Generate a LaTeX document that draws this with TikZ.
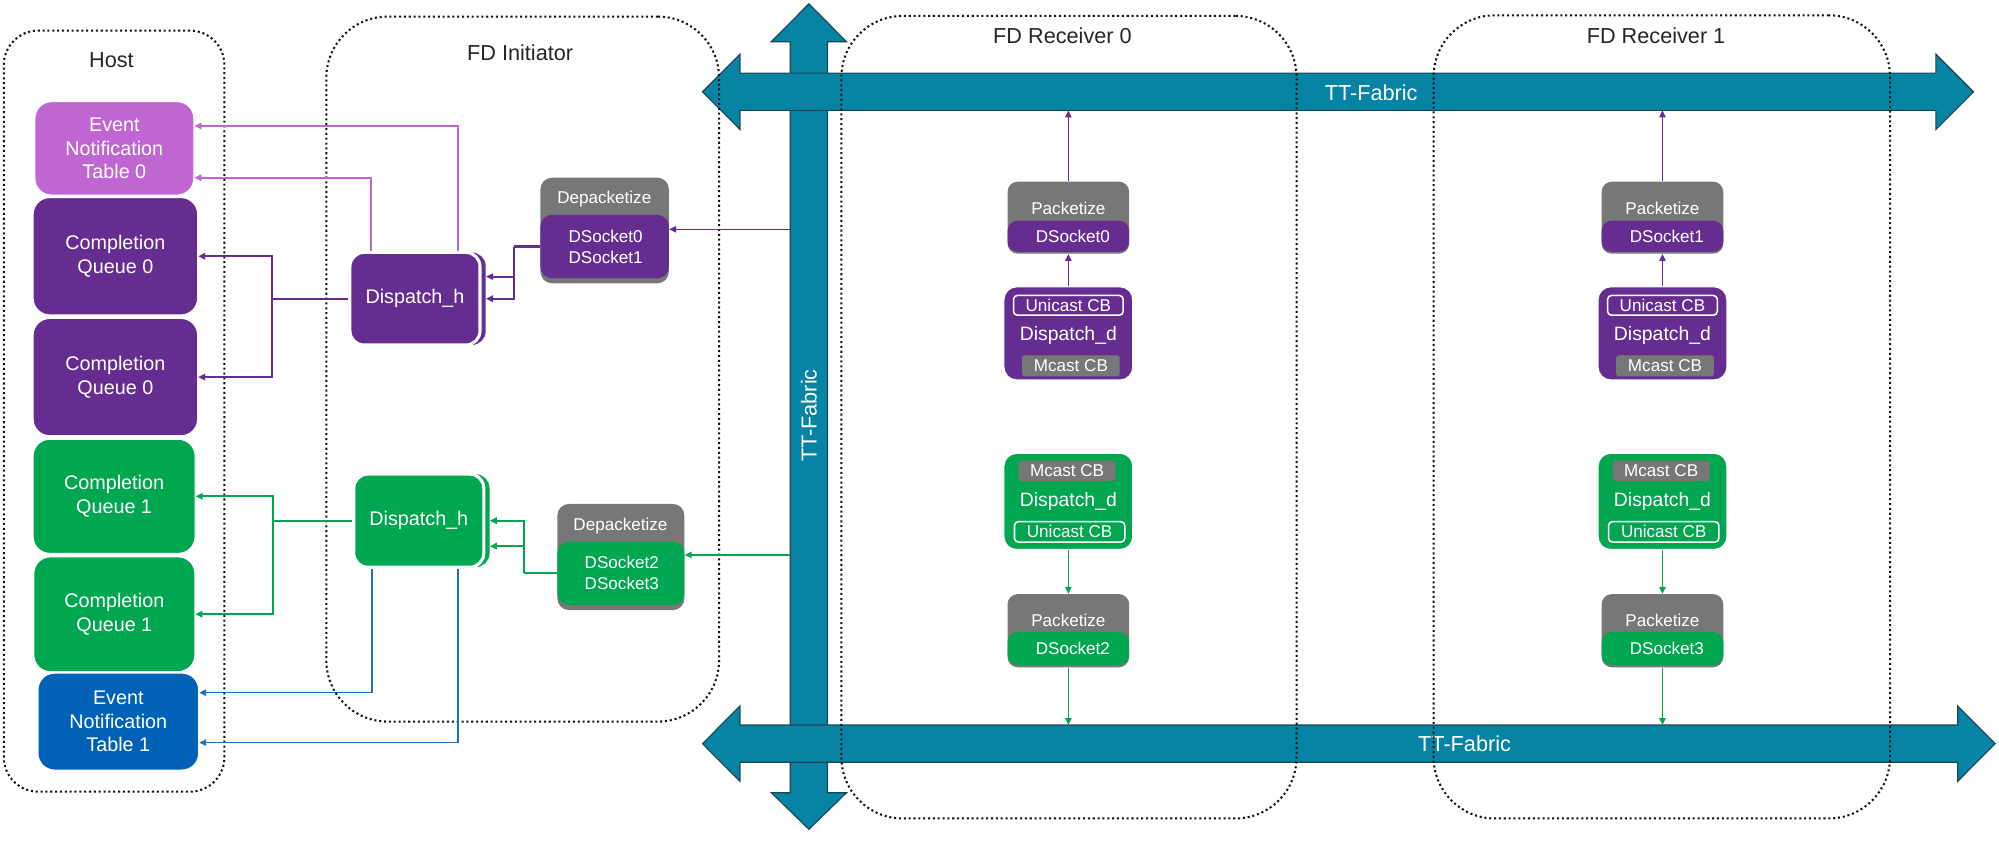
\documentclass[tikz,border=0pt]{standalone}
\usepackage{fontspec}
\setmainfont{Liberation Sans}
\usetikzlibrary{arrows.meta}
\definecolor{dpurple}{HTML}{662D91}
\definecolor{orch}{HTML}{C066D2}
\definecolor{dgreen}{HTML}{00A650}
\definecolor{dblue}{HTML}{0062B7}
\definecolor{dgray}{HTML}{777777}
\definecolor{tealf}{HTML}{0783A3}
\definecolor{tealdk}{HTML}{1B4656}
\definecolor{lnblue}{HTML}{2070BA}
\definecolor{frmcol}{HTML}{111111}
\begin{document}
\begin{tikzpicture}[x=1pt,y=-1pt,
  fab/.style={fill=tealf, draw=tealdk, line width=0.9pt},
  fablab/.style={text=white, font=\fontsize{17}{20}\selectfont, inner sep=0pt},
  frm/.style={draw=frmcol, line width=1.6pt, dash pattern=on 1.6pt off 2.2pt, inner sep=0pt},
  ttl/.style={text=black!85, font=\fontsize{17}{20}\selectfont, inner sep=0pt},
  hb/.style={rectangle, rounded corners=13pt, draw=white, line width=0.8pt, text=white, align=center, inner sep=0pt, font=\fontsize{15.5}{18.3}\selectfont},
  dh/.style={rectangle, rounded corners=11pt, fill=#1, draw=white, line width=2.4pt, text=white, inner sep=0pt, minimum width=102pt, minimum height=72.6pt, font=\fontsize{15.5}{18.3}\selectfont},
  dhs/.style={rectangle, rounded corners=11pt, fill=#1, inner sep=0pt, minimum width=102pt, minimum height=72.6pt},
  gbox/.style={rectangle, rounded corners=9pt, fill=dgray, inner sep=0pt},
  sbox/.style={rectangle, rounded corners=8pt, fill=#1, inner sep=0pt},
  smalltxt/.style={text=white, inner sep=0pt, align=center, font=\fontsize{13.4}{16.5}\selectfont},
  ddbox/.style={rectangle, rounded corners=10pt, fill=#1, draw=white, line width=0.8pt, inner sep=0pt, minimum width=101pt, minimum height=74pt},
  ucb/.style={rectangle, rounded corners=3pt, draw=white, line width=1.2pt, inner sep=0pt, minimum width=86pt, minimum height=15.5pt, text=white, font=\fontsize{13.4}{15}\selectfont},
  mcb/.style={rectangle, rounded corners=2pt, fill=dgray, inner sep=0pt, minimum width=76.5pt, minimum height=16.5pt, text=white, font=\fontsize{13.4}{15}\selectfont},
  midtxt/.style={text=white, inner sep=0pt, font=\fontsize{15.2}{18}\selectfont},
  arrw/.style={-{Triangle[length=5.5pt,width=5pt]}},
  thickp/.style={draw=dpurple, line width=1.8pt},
  thickg/.style={draw=dgreen, line width=1.8pt},
  lpl/.style={draw=orch, line width=1.3pt},
  bln/.style={draw=lnblue, line width=1.3pt},
  thinp/.style={draw=dpurple, line width=1.1pt},
  thing/.style={draw=dgreen, line width=1.1pt}
]
\useasboundingbox (0,0) rectangle (1568,663);

% ---- TT-Fabric arrows ----
\draw[fab] (634.5,3) -- (664,32.7) -- (649.1,32.7) -- (649.1,621.8) -- (664,621.8) -- (634.5,650.5) -- (605,621.8) -- (619.9,621.8) -- (619.9,32.7) -- (605,32.7) -- cycle;
\draw[fab] (551,72) -- (580.4,42.5) -- (580.4,57.4) -- (1518.5,57.4) -- (1518.5,42.5) -- (1548,72) -- (1518.5,101.5) -- (1518.5,86.6) -- (580.4,86.6) -- (580.4,101.5) -- cycle;
\draw[fab] (551,583.3) -- (580.4,553.8) -- (580.4,568.7) -- (1535.6,568.7) -- (1535.6,553.8) -- (1565,583.3) -- (1535.6,612.8) -- (1535.6,597.9) -- (580.4,597.9) -- (580.4,612.8) -- cycle;
\node[fablab] (toplab) at (1075.5,72.5) {TT-Fabric};
\node[fablab] (botlab) at (1148.8,583) {TT-Fabric};
\node[fablab, rotate=90] (vlab) at (634.5,326) {TT-Fabric};
\coordinate (vfL1) at (619.9,179.9);
\coordinate (vfL2) at (619.9,435.3);
\coordinate (tfB) at (1000,86.6);
\coordinate (bfT) at (1000,568.7);

% ---- frames ----
\node[frm, rounded corners=27pt, minimum width=173pt, minimum height=597pt] (hostf) at (89.5,322.5) {};
\node[frm, rounded corners=48pt, minimum width=308pt, minimum height=553pt] (initf) at (410,289.5) {};
\node[frm, rounded corners=48pt, minimum width=357pt, minimum height=629.5pt] (rec0f) at (838.5,327.25) {};
\node[frm, rounded corners=48pt, minimum width=358pt, minimum height=630pt] (rec1f) at (1303.5,327) {};
\node[ttl] (hostt) at (87.4,47) {Host};
\node[ttl] (initt) at (408,41.3) {FD Initiator};
\node[ttl] (rec0t) at (833.4,28.2) {FD Receiver 0};
\node[ttl] (rec1t) at (1299,28.2) {FD Receiver 1};

% ---- host ----
\node[hb, fill=orch, minimum width=124.6pt, minimum height=73.2pt] (ent0) at (89.7,116.4) {Event\\Notification\\Table 0};
\node[hb, fill=dpurple, minimum width=129pt, minimum height=92pt] (cq0a) at (90.5,201) {Completion\\Queue 0};
\node[hb, fill=dpurple, minimum width=129pt, minimum height=92pt] (cq0b) at (90.5,295.8) {Completion\\Queue 0};
\node[hb, fill=dgreen, minimum width=127pt, minimum height=89.4pt] (cq1a) at (89.5,389.3) {Completion\\Queue 1};
\node[hb, fill=dgreen, minimum width=126.3pt, minimum height=90pt] (cq1b) at (89.7,481.8) {Completion\\Queue 1};
\node[hb, fill=dblue, minimum width=126pt, minimum height=76pt] (ent1) at (92.8,566) {Event\\Notification\\Table 1};

% ---- initiator ----
\node[dhs=dpurple] (dh0b) at (330,234.3) {};
\node[dh=dpurple] (dh0) at (325.5,234.3) {Dispatch\_h};
\node[dhs=dgreen, minimum height=73pt] (dh1b) at (333,408.4) {};
\node[dh=dgreen, minimum height=73pt] (dh1) at (328.5,408.4) {Dispatch\_h};

\node[gbox, minimum width=100.7pt, minimum height=82.8pt] (dep0) at (474.3,180.8) {};
\node[sbox=dpurple, minimum width=100.7pt, minimum height=49.7pt, rounded corners=9pt] (dep0s) at (474.3,193.45) {};
\node[smalltxt] (dep0t) at (474,156.4) {Depacketize};
\node[smalltxt] (dep0l) at (475,193.85) {DSocket0\\DSocket1};

\node[gbox, minimum width=99.6pt, minimum height=83.2pt] (dep1) at (487,436.9) {};
\node[sbox=dgreen, minimum width=99.6pt, minimum height=49.6pt, rounded corners=9pt] (dep1s) at (487,449.7) {};
\node[smalltxt] (dep1t) at (486.7,412.6) {Depacketize};
\node[smalltxt] (dep1l) at (487.7,449.45) {DSocket2\\DSocket3};

% connectors initiator -> host
\coordinate (jp) at ([xshift=-59.7pt]dh0.west);
\draw[thickp] (dh0.west) -- (jp);
\draw[thickp,arrw] (jp) |- (cq0a.east);
\draw[thickp,arrw] (jp) |- (cq0b.east);
\coordinate (jg) at ([xshift=-62pt]dh1.west);
\draw[thickg] (dh1.west) -- (jg);
\draw[thickg,arrw] (jg) |- (cq1a.east);
\draw[thickg,arrw] (jg) |- (cq1b.east);
\draw[lpl,arrw] ([xshift=33.8pt]dh0.north) |- ([yshift=17.6pt]ent0.east);
\draw[lpl,arrw] ([xshift=-34.6pt]dh0.north) |- ([yshift=-23pt]ent0.east);
\draw[bln,arrw] ([xshift=-36.5pt]dh1.south) |- ([yshift=22.7pt]ent1.east);
\draw[bln,arrw] ([xshift=30.8pt]dh1.south) |- ([yshift=-16.5pt]ent1.east);

% depacketize -> dispatch_h
\coordinate (k0) at ([xshift=-20.5pt]dep0s.west);
\draw[thickp] (dep0s.west) -- (k0);
\draw[thickp,arrw] (k0) |- (dh0b.east);
\draw[thickp,arrw] (k0) |- ([yshift=17.3pt]dh0b.east);
\coordinate (k1) at ([xshift=-25.8pt]dep1s.west);
\draw[thickg] (dep1s.west) -- (k1);
\draw[thickg,arrw] (k1) |- (dh1b.east);
\draw[thickg,arrw] (k1) |- ([yshift=-20pt]dh1b.east);

% fabric -> depacketize
\draw[thinp,arrw] (vfL1) -- (vfL1 -| dep0s.east);
\draw[thing,arrw] (vfL2) -- (vfL2 -| dep1s.east);

% ---- receivers ----
\foreach \i/\cx/\sa/\sb in {0/838/DSocket0/DSocket2, 1/1304/DSocket1/DSocket3}{
  \node[ddbox=dpurple, minimum height=73pt] (dda\i) at (\cx,261.5) {};
  \node[ucb] (ua\i) at (\cx,239.5) {Unicast CB};
  \node[mcb] (ma\i) at (\cx+2,287) {Mcast CB};
  \node[midtxt] (dta\i) at (\cx,262.8) {Dispatch\_d};
  \node[gbox, rounded corners=8pt, minimum width=95.4pt, minimum height=56.5pt] (pka\i) at (\cx,170.75) {};
  \node[sbox=dpurple, minimum width=95.4pt, minimum height=24.5pt] (pksa\i) at (\cx,185.25) {};
  \node[smalltxt] (pkta\i) at (\cx,163.4) {Packetize};
  \node[smalltxt] (pksta\i) at (\cx+3.5,185.6) {\sa};
  \draw[thinp,arrw] (dda\i.north) -- (pka\i.south);
  \draw[thinp,arrw] (pka\i.north) -- (pka\i.north |- tfB);

  \node[ddbox=dgreen, minimum height=75.4pt] (ddb\i) at (\cx,393.3) {};
  \node[mcb, minimum width=76pt, minimum height=16pt] (mb\i) at (\cx-1,369.3) {Mcast CB};
  \node[midtxt] (dtb\i) at (\cx,393.5) {Dispatch\_d};
  \node[ucb, minimum width=86.5pt, minimum height=16pt] (ub\i) at (\cx+1,417.2) {Unicast CB};
  \node[gbox, rounded corners=8pt, minimum width=95.4pt, minimum height=57.4pt] (pkb\i) at (\cx,494.7) {};
  \node[sbox=dgreen, minimum width=95.4pt, minimum height=26pt] (pksb\i) at (\cx,508.7) {};
  \node[smalltxt] (pktb\i) at (\cx,486.8) {Packetize};
  \node[smalltxt] (pkstb\i) at (\cx+3.5,508.8) {\sb};
  \draw[thing,arrw] (ddb\i.south) -- (pkb\i.north);
  \draw[thing,arrw] (pkb\i.south) -- (pkb\i.south |- bfT);
}
\end{tikzpicture}
\end{document}
